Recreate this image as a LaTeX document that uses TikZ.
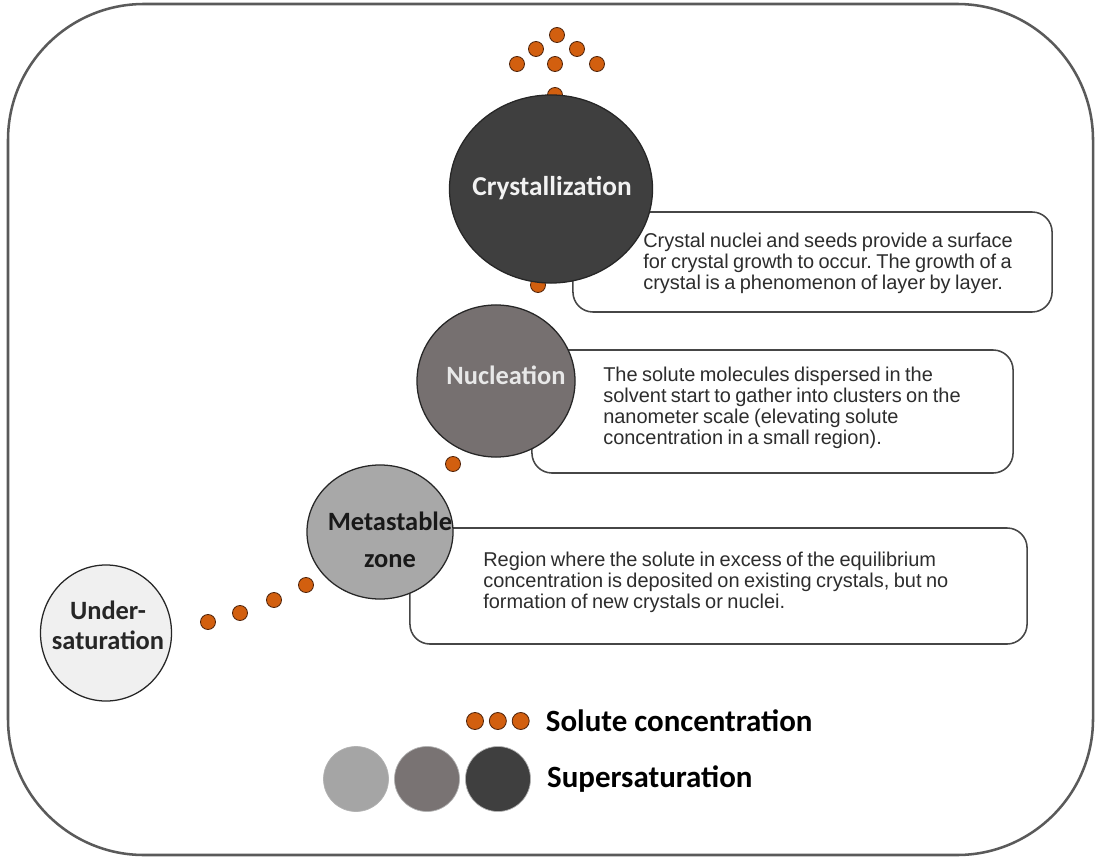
\documentclass[tikz,border=0pt]{standalone}
\usepackage{fontspec}
\usepackage{xcolor}
\usepackage{tikz}
\usetikzlibrary{positioning, shapes.geometric}
\newfontfamily\arialfont[WordSpace=0.8]{Liberation Sans}
\newfontfamily\calibrifont{Carlito}
\frenchspacing
\definecolor{framegray}{RGB}{90,90,90}
\definecolor{crystalfill}{RGB}{63,63,63}
\definecolor{nucleifill}{RGB}{118,112,112}
\definecolor{metafill}{RGB}{168,168,168}
\definecolor{underfill}{RGB}{240,240,240}
\definecolor{solutefill}{RGB}{210,95,15}
\definecolor{soluteedge}{RGB}{80,35,10}
\definecolor{boxedge}{RGB}{70,70,70}
\definecolor{boxtext}{RGB}{45,45,45}

\begin{document}
\begin{tikzpicture}[x=0.025cm, y=-0.025cm,
    every node/.style={inner sep=0pt},
    phase/.style={ellipse, draw=black!85, line width=0.9pt},
    phaselabel/.style={align=center,
                  font=\calibrifont\bfseries\fontsize{18.8}{22}\selectfont},
    solute/.style={circle, draw=soluteedge, fill=solutefill,
                  minimum size=0.375cm, line width=0.6pt},
    infobox/.style={rectangle, rounded corners=0.5cm, draw=boxedge,
                  fill=white, line width=1.1pt},
    infotext/.style={anchor=west, align=left, text=boxtext,
                  font=\arialfont\fontsize{14.2}{15}\selectfont},
    legcircle/.style={circle, draw=black!30, line width=0.5pt,
                  minimum size=1.625cm},
    legtext/.style={font=\calibrifont\bfseries\fontsize{22}{26}\selectfont}
]
\useasboundingbox (0,0) rectangle (1095,859);

% --- marco exterior ---
\draw[draw=framegray, line width=1.8pt, rounded corners=3.4cm]
    (8,4) rectangle (1093,855);

% --- puntos de soluto ---
\node[solute] (s1) at (557,35) {};
\node[solute] (s2) at (536,49) {};
\node[solute] (s3) at (577,49) {};
\node[solute] (s4) at (517,64) {};
\node[solute] (s5) at (555,64) {};
\node[solute] (s6) at (597,64) {};
\node[solute] (s7) at (555,95) {};
\node[solute] (s8) at (538,285) {};
\node[solute] (s9) at (453,464) {};
\node[solute] (s10) at (306,585) {};
\node[solute] (s11) at (274,600) {};
\node[solute] (s12) at (240,613) {};
\node[solute] (s13) at (208,622) {};

% --- cuadros de texto ---
\node[infobox, minimum width=11.975cm, minimum height=2.5cm]
    (crybox) at (812.5,262) {};
\node[infobox, minimum width=12.025cm, minimum height=3.075cm]
    (nucbox) at (772.5,411.5) {};
\node[infobox, minimum width=15.425cm, minimum height=2.9cm]
    (metbox) at (718.5,586) {};

% --- fases ---
\node[phase, fill=crystalfill, minimum width=5.075cm, minimum height=4.7cm]
    (cry) at (551,189) {};
\node[phase, fill=nucleifill, minimum width=3.95cm, minimum height=3.8cm]
    (nuc) at (496,381) {};
\node[phase, fill=metafill, minimum width=3.65cm, minimum height=3.35cm]
    (met) at (380,532) {};
\node[phase, fill=underfill, minimum width=3.275cm, minimum height=3.4cm]
    (und) at (106,633) {};

\node[phaselabel, text={rgb,255:red,242;green,242;blue,242},
      font=\calibrifont\bfseries\fontsize{19.4}{22}\selectfont]
    (crylab) at (552,188) {Crystallization};
\node[phaselabel, text={rgb,255:red,232;green,232;blue,232}] (nuclab) at (506,375) {Nucleation};
\node[phaselabel, text=black!90,
      font=\calibrifont\bfseries\fontsize{18.8}{26}\selectfont]
    (metlab) at (390,540) {Metastable\\zone};
\node[phaselabel, text=black!85,
      font=\calibrifont\bfseries\fontsize{18.8}{21.3}\selectfont]
    (undlab) at (108,625) {Under-\\saturation};

% --- textos ---
\node[infotext] (crytext) at (643,263)
    {Crystal nuclei and seeds provide a surface\\
     for crystal growth to occur. The growth of a\\
     crystal is a phenomenon of layer by layer.};
\node[infotext] (nuctext) at (603,408)
    {The solute molecules dispersed in the\\
     solvent start to gather into clusters on the\\
     nanometer scale (elevating solute\\
     concentration in a small region).};
\node[infotext] (mettext) at (483,582)
    {Region where the solute in excess of the equilibrium\\
     concentration is deposited on existing crystals, but no\\
     formation of new crystals or nuclei.};

% --- leyenda ---
\node[solute, minimum size=0.425cm] (ld1) at (475,721) {};
\node[solute, minimum size=0.425cm, right=0.125cm of ld1] (ld2) {};
\node[solute, minimum size=0.425cm, right=0.125cm of ld2] (ld3) {};
\node[legtext, right=0.4cm of ld3] (soltext) {Solute concentration};

\node[legcircle, fill={rgb,255:red,165;green,165;blue,165}] (lc1) at (356,779) {};
\node[legcircle, fill={rgb,255:red,121;green,115;blue,115}] (lc2) at (427,779) {};
\node[legcircle, fill=crystalfill] (lc3) at (498,779) {};
\node[legtext, right=0.4cm of lc3] (suptext) {Supersaturation};
\end{tikzpicture}
\end{document}
